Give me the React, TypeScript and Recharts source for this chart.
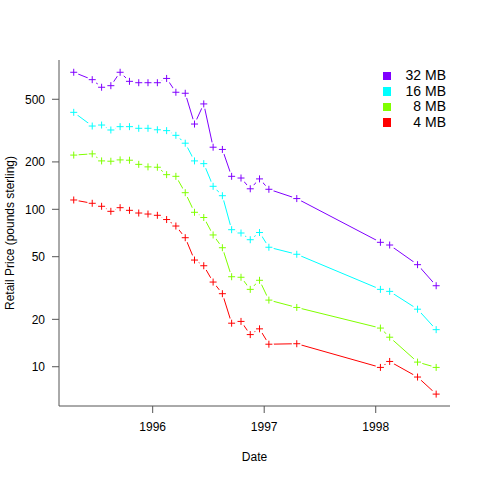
import React from "react";
import { LineChart, Line, XAxis, YAxis, Legend } from "recharts";

// dates as fractional years (mid-month)
const dates = [
  1995.292, 1995.458, 1995.542, 1995.625, 1995.708, 1995.792, 1995.875, 1995.958,
  1996.042, 1996.125, 1996.208, 1996.292, 1996.375, 1996.458, 1996.542, 1996.625,
  1996.708, 1996.792, 1996.875, 1996.958, 1997.042, 1997.292, 1998.042, 1998.125,
  1998.375, 1998.542,
];

const mb32 = [
  742, 666, 596, 610, 742, 650, 637, 637, 637, 678, 554, 546, 348, 467, 248, 240,
  162, 158, 135, 156, 134, 117, 61.7, 59.3, 44.5, 32.7,
];
const mb16 = [
  413, 338, 343, 319, 335, 335, 327, 327, 320, 316, 295, 263, 203, 195, 140, 122,
  74.2, 70.7, 64.1, 71.2, 57.4, 51.8, 31.0, 30.1, 23.2, 17.2,
];
const mb8 = [
  221, 225, 203, 202, 206, 205, 193, 186, 185, 166, 162, 127.5, 95.7, 88.7, 68.7, 57.0,
  37.3, 37.0, 31.0, 35.4, 26.5, 23.8, 17.6, 15.4, 10.7, 9.9,
];
const mb4 = [
  114.6, 109.2, 104.5, 97.1, 102.4, 98.5, 94.7, 93.3, 91.6, 86.1, 78.3, 66.0, 47.6, 43.8,
  34.5, 29.1, 18.9, 19.4, 16.0, 17.4, 13.9, 14.0, 9.9, 10.8, 8.6, 6.7,
];

const xTicks = [1996, 1997, 1998];
const yTicks = [10, 20, 50, 100, 200, 500];

const series = [
  { key: "mb32", name: "32 MB", color: "#8000FF" },
  { key: "mb16", name: "16 MB", color: "#00FFFF" },
  { key: "mb8", name: "8 MB", color: "#80FF00" },
  { key: "mb4", name: "4 MB", color: "#FF0000" },
];

const data = dates.map((d, i) => ({
  date: d,
  mb32: mb32[i],
  mb16: mb16[i],
  mb8: mb8[i],
  mb4: mb4[i],
}));

const font = "'Liberation Sans', Arial, Helvetica, sans-serif";

// "+" marker with a white gap around it, like R's type = "b"
const plus = (color: string) => (props: any) => {
  const { cx, cy, index } = props;
  if (cx == null || cy == null) return <g key={index} />;
  return (
    <g key={index}>
      <circle cx={cx} cy={cy} r={5} fill="#fff" />
      <path
        d={`M${cx - 3.5},${cy}h7M${cx},${cy - 3.5}v7`}
        stroke={color}
        strokeWidth={1}
        fill="none"
      />
    </g>
  );
};

const LegendBox = () => (
  <div style={{ width: 66, fontFamily: font, fontSize: 14, color: "#000" }}>
    {series.map((s) => (
      <div key={s.key} style={{ display: "flex", alignItems: "center", height: 15.6 }}>
        <div style={{ width: 8.5, height: 8.5, marginLeft: 2.5, background: s.color }} />
        <div style={{ flex: 1, textAlign: "right", lineHeight: "15.6px" }}>{s.name}</div>
      </div>
    ))}
  </div>
);

export default function App() {
  return (
    <div style={{ position: "absolute", left: 0, top: 0, background: "#fff" }}>
      <LineChart
        width={480}
        height={480}
        data={data}
        margin={{ top: 60, right: 30, left: 0, bottom: 0 }}
      >
        <XAxis
          dataKey="date"
          type="number"
          domain={[1995.16, 1998.666]}
          allowDataOverflow
          ticks={xTicks}
          height={74}
          tickSize={7}
          tickMargin={9}
          stroke="#555"
          tick={{ fill: "#000", fontSize: 12, fontFamily: font }}
          label={{
            value: "Date",
            position: "insideBottom",
            offset: 19,
            fill: "#000",
            fontSize: 12,
            fontFamily: font,
          }}
        />
        <YAxis
          type="number"
          scale="log"
          domain={[5.63, 888]}
          allowDataOverflow
          ticks={yTicks}
          width={59}
          tickSize={7}
          tickMargin={7}
          stroke="#555"
          tick={{ fill: "#000", fontSize: 12, fontFamily: font }}
          label={{
            value: "Retail Price (pounds sterling)",
            angle: -90,
            position: "insideLeft",
            offset: 10,
            fill: "#000",
            fontSize: 12,
            fontFamily: font,
            style: { textAnchor: "middle" },
          }}
        />
        {series.map((s) => (
          <Line
            key={s.key}
            dataKey={s.key}
            name={s.name}
            type="linear"
            stroke={s.color}
            strokeWidth={1}
            dot={plus(s.color)}
            activeDot={false}
            isAnimationActive={false}
          />
        ))}
        <Legend
          layout="vertical"
          align="center"
          verticalAlign="middle"
          content={() => <LegendBox />}
          wrapperStyle={{ position: "absolute", left: 380, top: 68, width: 66 }}
        />
      </LineChart>
    </div>
  );
}
